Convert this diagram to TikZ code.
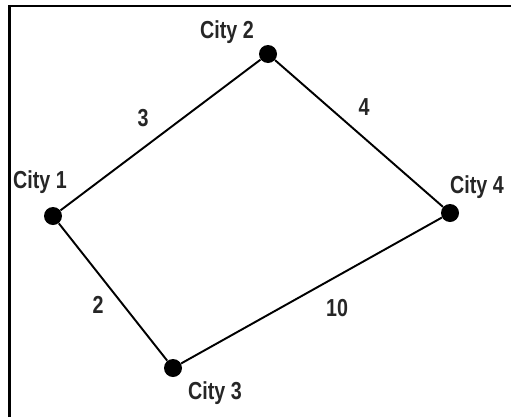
\documentclass[tikz,border=0pt]{standalone}
\usepackage{fontspec}
\newfontfamily\cityfont{Liberation Sans}[FakeStretch=0.8]
\usepackage{tikz}

\tikzset{
  city/.style={circle,fill=black,inner sep=0pt,minimum size=0.36cm},
  road/.style={line width=1.1pt},
  lbl/.style={font=\cityfont\bfseries\fontsize{14}{16}\selectfont,text=black!85,inner sep=0pt},
}

\begin{document}
\begin{tikzpicture}
\useasboundingbox (0.000,0.000) rectangle (10.220,-8.340);
\draw[line width=1.2pt] (0.190,-8.340) -- (0.190,-0.120) -- (10.220,-0.120);
\node[city] (c1) at (1.060,-4.320) {};
\node[city] (c2) at (5.360,-1.080) {};
\node[city] (c3) at (3.460,-7.360) {};
\node[city] (c4) at (9.000,-4.260) {};
\draw[road] (c1) -- (c2);
\draw[road] (c2) -- (c4);
\draw[road] (c1) -- (c3);
\draw[road] (c3) -- (c4);
\node[lbl] (n1) at (0.800,-3.640) {City 1};
\node[lbl] (n2) at (4.540,-0.640) {City 2};
\node[lbl] (n3) at (4.300,-7.860) {City 3};
\node[lbl] (n4) at (9.540,-3.740) {City 4};
\node[lbl] (w12) at (2.860,-2.360) {3};
\node[lbl] (w24) at (7.280,-2.140) {4};
\node[lbl] (w13) at (1.960,-6.100) {2};
\node[lbl] (w34) at (6.740,-6.160) {10};
\end{tikzpicture}
\end{document}
